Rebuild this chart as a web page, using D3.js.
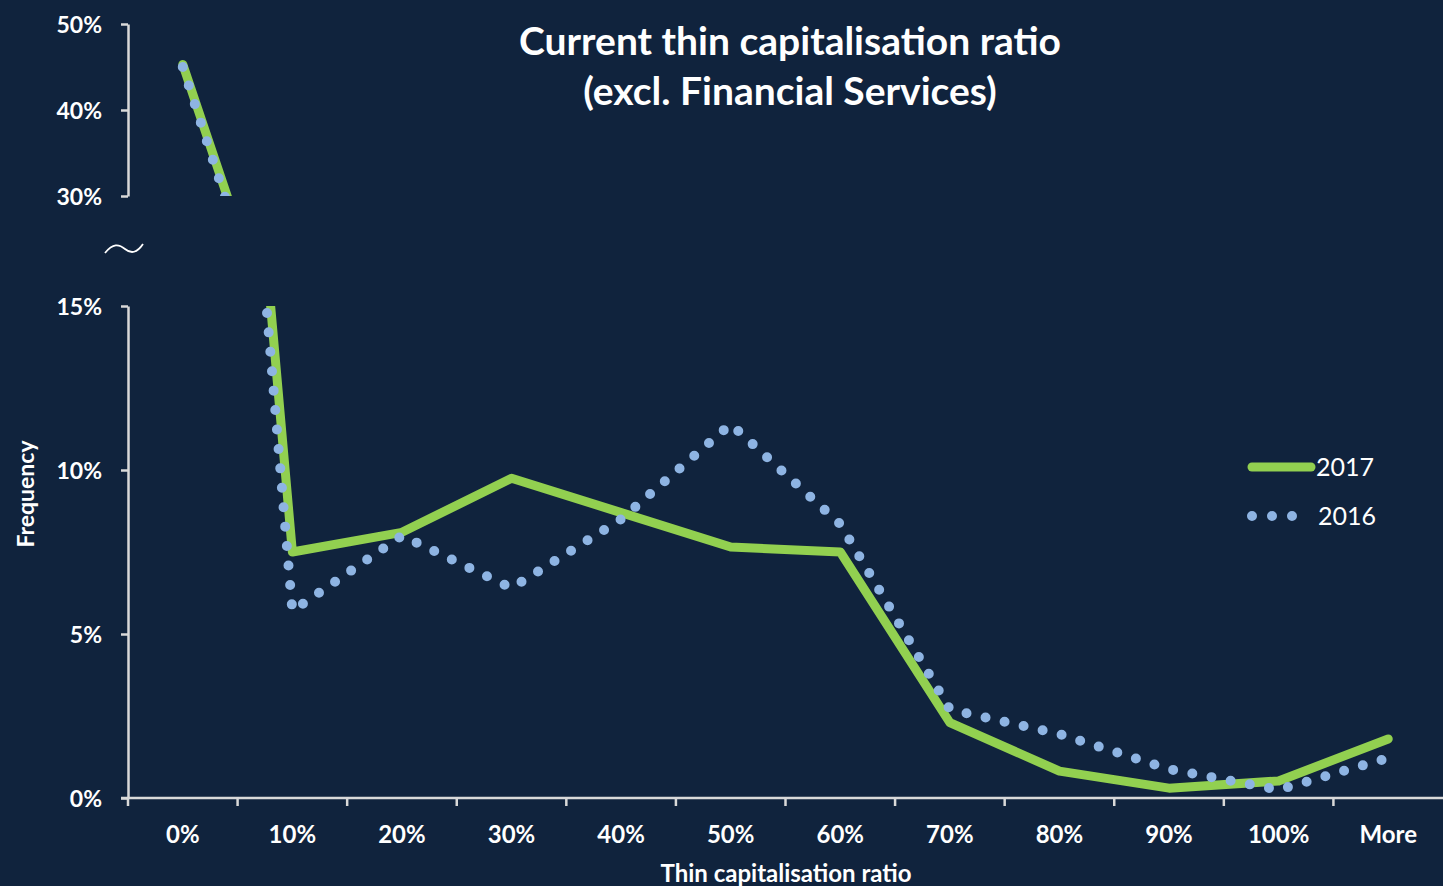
<!DOCTYPE html>
<html>
<head>
<meta charset="utf-8">
<script src="https://cdn.jsdelivr.net/npm/d3@7.9.0/dist/d3.min.js"></script>
<style>
  html, body { margin: 0; padding: 0; background: #10233d; }
  svg { display: block; }
  text { font-family: Lato, "Open Sans", sans-serif; fill: #fff; }
</style>
</head>
<body>
<svg id="chart" width="1443" height="886"></svg>
<script>
/* ---------- data --------- */
const categories = ['0%', '10%', '20%', '30%', '40%', '50%', '60%', '70%', '80%', '90%', '100%', 'More'];
const values2017 = [45.3, 7.5, 8.1, 9.75, 8.7, 7.65, 7.5, 2.3, 0.82, 0.3, 0.52, 1.8];
const values2016 = [45.0, 5.7, 8.0, 6.4, 8.5, 11.4, 8.35, 2.7, 1.95, 0.88, 0.25, 1.22];
const topTicks = [30, 40, 50];
const bottomTicks = [0, 5, 10, 15];

const GREEN = '#92d050', BLUE = '#8eb4e3', AXIS = '#d9d9d9';

/* ---------- layout --------- */
const W = 1443, H = 886;
const left = 128, right = 1443;
const top1 = 24, bot1 = 196;     // upper panel (30%-50%)
const top2 = 306, bot2 = 798;    // lower panel (0%-15%)

const svg = d3.select('#chart');

const x = d3.scaleBand().domain(categories).range([left, right]).padding(0);
const cx = d => x(d) + x.bandwidth() / 2;
const yTop = d3.scaleLinear().domain([30, 50]).range([bot1, top1]);
const yBot = d3.scaleLinear().domain([0, 15]).range([bot2, top2]);

const defs = svg.append('defs');
defs.append('clipPath').attr('id', 'clip-top')
  .append('rect').attr('x', left).attr('y', 0).attr('width', right - left).attr('height', bot1);
defs.append('clipPath').attr('id', 'clip-bot')
  .append('rect').attr('x', left).attr('y', top2).attr('width', right - left).attr('height', H - top2);

/* ---------- axes --------- */
function yAxis(scale, ticks) {
  const g = svg.append('g').attr('transform', `translate(${left},0)`)
    .call(d3.axisLeft(scale).tickValues(ticks).tickSize(7).tickSizeOuter(0)
      .tickFormat(d => d + '%'));
  g.select('.domain').attr('stroke', AXIS).attr('stroke-width', 2.5);
  g.selectAll('.tick line').attr('stroke', AXIS).attr('stroke-width', 2.5);
  g.selectAll('.tick text').attr('x', -26).attr('dy', '0.36em')
    .style('font-size', '23px').style('font-weight', 700).attr('fill', '#fff');
  return g;
}
yAxis(yTop, topTicks);
yAxis(yBot, bottomTicks);

// x axis: ticks on category boundaries
const xg = svg.append('g').attr('transform', `translate(0,${bot2})`);
xg.append('line').attr('x1', left - 7).attr('x2', right).attr('stroke', AXIS).attr('stroke-width', 2.5);
xg.selectAll('line.tk').data(categories).join('line').attr('class', 'tk')
  .attr('x1', d => x(d)).attr('x2', d => x(d)).attr('y1', 0).attr('y2', 8)
  .attr('stroke', AXIS).attr('stroke-width', 2.5);
xg.selectAll('text').data(categories).join('text')
  .attr('x', d => cx(d)).attr('y', 45).attr('text-anchor', 'middle')
  .style('font-size', '24px').style('font-weight', 700).text(d => d);

// axis break mark
const tp = d3.path();
tp.moveTo(105, 253);
tp.bezierCurveTo(113, 243, 119, 244, 125, 249);
tp.bezierCurveTo(131, 254, 137, 253, 143, 244);
svg.append('path').attr('d', tp.toString()).attr('fill', 'none')
  .attr('stroke', '#fff').attr('stroke-width', 1.8);

/* ---------- lines --------- */
const series = [
  { name: '2017', values: values2017, color: GREEN, width: 9, dash: null },
  { name: '2016', values: values2016, color: BLUE, width: 10, dash: '0 19.5' },
];

[[yTop, 'clip-top'], [yBot, 'clip-bot']].forEach(([yScale, clip]) => {
  const line = d3.line().x((d, i) => cx(categories[i])).y(d => yScale(d));
  const g = svg.append('g').attr('clip-path', `url(#${clip})`);
  // 2016 drawn after 2017 so the dots sit on top
  series.forEach(s => {
    g.append('path').datum(s.values)
      .attr('d', line)
      .attr('fill', 'none')
      .attr('stroke', s.color)
      .attr('stroke-width', s.width)
      .attr('stroke-linecap', 'round')
      .attr('stroke-linejoin', 'round')
      .attr('stroke-dasharray', s.dash);
  });
});

/* ---------- legend --------- */
const lg = svg.append('g');
series.forEach((s, i) => {
  const y = 467 + i * 49;
  lg.append('line').attr('x1', 1252).attr('x2', s.dash ? 1293 : 1311)
    .attr('y1', y).attr('y2', y)
    .attr('stroke', s.color).attr('stroke-width', s.width)
    .attr('stroke-linecap', 'round').attr('stroke-dasharray', s.dash ? '0 20' : null);
  lg.append('text').attr('x', s.dash ? 1318 : 1316).attr('y', y).attr('dy', '0.36em')
    .style('font-size', '25px').text(s.name);
});

/* ---------- titles --------- */
svg.append('text').attr('x', 790).attr('y', 55).attr('text-anchor', 'middle')
  .style('font-size', '39px').style('font-weight', 700).text('Current thin capitalisation ratio');
svg.append('text').attr('x', 790).attr('y', 105).attr('text-anchor', 'middle')
  .style('font-size', '39px').style('font-weight', 700).text('(excl. Financial Services)');

svg.append('text').attr('x', 786).attr('y', 882).attr('text-anchor', 'middle')
  .style('font-size', '24px').style('font-weight', 700).text('Thin capitalisation ratio');
svg.append('text').attr('transform', 'translate(34,494) rotate(-90)').attr('text-anchor', 'middle')
  .style('font-size', '23px').style('font-weight', 700).text('Frequency');
</script>
</body>
</html>
